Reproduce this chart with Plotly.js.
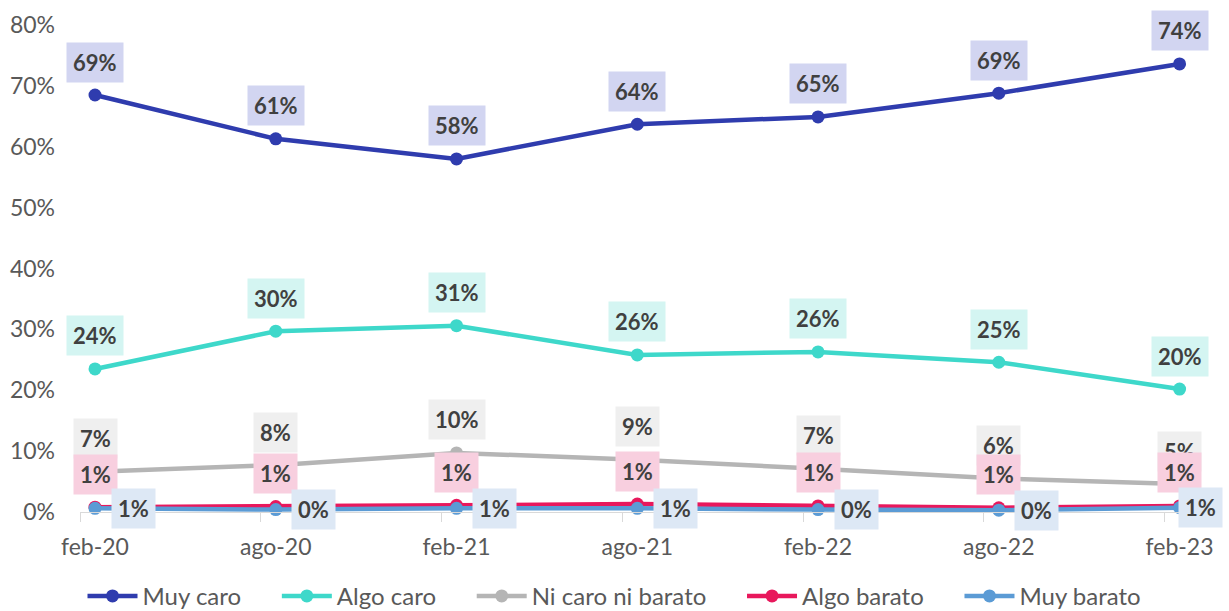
<!DOCTYPE html>
<html>
<head>
<meta charset="utf-8">
<script src="https://cdn.plot.ly/plotly-3.0.1.min.js"></script>
<style>html,body{margin:0;padding:0;background:#fff;}#chart{width:1229px;height:611px;}</style>
</head>
<body>
<div id="chart"></div>
<script>
const categories = ["feb-20", "ago-20", "feb-21", "ago-21", "feb-22", "ago-22", "feb-23"];
const seriesNames = ["Muy caro", "Algo caro", "Ni caro ni barato", "Algo barato", "Muy barato"];
const muyCaro = [68.5, 61.3, 58.0, 63.7, 64.9, 68.8, 73.6];
const algoCaro = [23.5, 29.7, 30.6, 25.8, 26.3, 24.6, 20.2];
const niCaroNiBarato = [6.6, 7.7, 9.7, 8.6, 7.1, 5.5, 4.6];
const algoBarato = [0.8, 0.9, 1.1, 1.3, 1.0, 0.7, 1.0];
const muyBarato = [0.6, 0.4, 0.6, 0.6, 0.4, 0.3, 0.7];
const yTicks = [0, 10, 20, 30, 40, 50, 60, 70, 80];

const seriesValues = [muyCaro, algoCaro, niCaroNiBarato, algoBarato, muyBarato];
const lineColors = ["#2f3cae", "#3ed8ca", "#b5b5b5", "#e8185c", "#5b9bd5"];
const labelBg = ["#d2d5f1", "#d4f5f2", "#efefef", "#f8cfdf", "#dde8f5"];
const labelPos = [
  {xs: 0, ys: 33}, {xs: 0, ys: 33}, {xs: 0, ys: 33}, {xs: 0, ys: 33}, {xs: 38, ys: 0}
];

const xIdx = categories.map((c, i) => i);
const pad = "\u00a0\u00a0\u00a0\u00a0\u00a0";

const traces = seriesValues.map((vals, s) => ({
  type: "scatter",
  mode: "lines+markers",
  name: seriesNames[s] + (s < seriesValues.length - 1 ? pad : ""),
  x: xIdx,
  y: vals,
  line: {color: lineColors[s], width: 4.5},
  marker: {color: lineColors[s], size: 13},
  cliponaxis: false,
  hoverinfo: "skip"
}));

const annotations = [];
seriesValues.forEach((vals, s) => {
  vals.forEach((v, i) => {
    let xs = labelPos[s].xs;
    if (xs > 0 && i === vals.length - 1) xs = 21; // keep last right label inside the picture
    annotations.push({
      x: xIdx[i], y: v, xref: "x", yref: "y",
      text: "<b>" + Math.round(v) + "%</b>",
      showarrow: false,
      xshift: xs, yshift: labelPos[s].ys,
      bgcolor: labelBg[s],
      borderpad: 6,
      font: {family: "Lato, 'Open Sans', sans-serif", size: 22, color: "#404040"}
    });
  });
});

const minorTicks = xIdx.map(i => i - 0.083);

const layout = {
  width: 1229, height: 611,
  margin: {l: 80, r: 44, t: 25, b: 99},
  paper_bgcolor: "#ffffff", plot_bgcolor: "#ffffff",
  font: {family: "Lato, 'Open Sans', sans-serif", color: "#595959"},
  showlegend: true,
  legend: {
    orientation: "h", xref: "container", yref: "container",
    x: 0.5, xanchor: "center", y: 0.024, yanchor: "middle",
    font: {size: 24, color: "#595959"},
    itemwidth: 50
  },
  xaxis: {
    range: [-0.083, 6.03],
    tickmode: "array", tickvals: xIdx, ticktext: categories,
    ticks: "", showgrid: false, zeroline: false,
    showline: true, linecolor: "#d9d9d9", linewidth: 1,
    tickfont: {size: 23, color: "#595959"},
    ticklabelstandoff: 14,
    minor: {tickmode: "array", tickvals: minorTicks, ticks: "outside", ticklen: 9, tickcolor: "#d9d9d9", tickwidth: 1, showgrid: false}
  },
  yaxis: {
    range: [0, 80],
    tickmode: "array", tickvals: yTicks, ticktext: yTicks.map(t => t + "%"),
    ticks: "", showgrid: false, zeroline: false, showline: false,
    tickfont: {size: 23, color: "#595959"},
    ticklabelstandoff: 24
  },
  annotations: annotations
};

Plotly.newPlot("chart", traces, layout, {displayModeBar: false, staticPlot: true});
</script>
</body>
</html>
